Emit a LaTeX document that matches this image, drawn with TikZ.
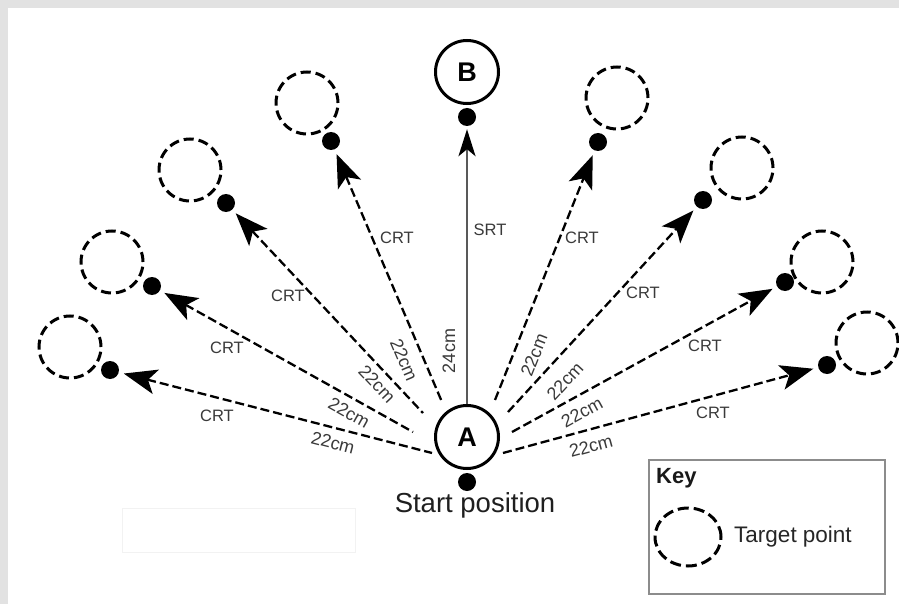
\documentclass[tikz,border=0pt]{standalone}
\usepackage{fontspec}
\setmainfont{Liberation Sans}
\usetikzlibrary{arrows.meta,shapes.geometric}
\definecolor{edgegray}{HTML}{E2E2E2}
\definecolor{labelgray}{HTML}{3A3A3A}
\definecolor{keyframe}{HTML}{8C8C8C}
\tikzset{
  target/.style={circle, draw=black, line width=3pt, dash pattern=on 10pt off 5pt,
    minimum size=62pt, inner sep=0pt},
  spot/.style={circle, fill=black, minimum size=18pt, inner sep=0pt},
  station/.style={circle, draw=black, line width=3pt, minimum size=63pt, inner sep=0pt,
    font=\fontsize{27}{29}\selectfont\bfseries},
  connleft/.style={draw=black, line width=2.3pt, dash pattern=on 9pt off 4pt, shorten <=5pt,
    arrows={Stealth[length=33pt, width=25pt, inset=8pt]-}},
  connright/.style={draw=black, line width=2.3pt, dash pattern=on 9pt off 4pt, shorten >=5pt,
    arrows={-Stealth[length=33pt, width=25pt, inset=8pt]}},
  srtline/.style={draw=black!65, line width=2.3pt, shorten >=3pt,
    arrows={-Stealth[length=27pt, width=17pt, inset=7pt, color=black]}},
  crt/.style={text=labelgray, font=\fontsize{16.5}{18}\selectfont, inner sep=0pt},
  dist/.style={text=labelgray, font=\fontsize{18}{20}\selectfont, inner sep=0pt},
}
\begin{document}
\begin{tikzpicture}[x=1pt, y=-1pt]
  % canvas with grey frame strips on top and left
  \useasboundingbox (0,0) rectangle (899,604);
  \fill[white] (0,0) rectangle (899,604);
  \fill[edgegray] (0,0) rectangle (899,8);
  \fill[edgegray] (0,0) rectangle (8,604);

  % faint empty box under the fan
  \node[draw=black!5, line width=0.8pt, minimum width=233pt, minimum height=44pt, inner sep=0pt]
    (blank) at (238.5,530) {};

  % start and end stations
  \node[station] (A) at (467,437) {A};
  \node[spot] (Adot) at (467,482) {};
  \node[font=\fontsize{27.5}{30}\selectfont, text=black!88, anchor=base, inner sep=0pt]
    (start) at (475,512) {Start position};
  \node[station] (B) at (467,72) {B};
  \node[spot] (Bdot) at (467,117) {};

  % target points (dashed circles) and their marker dots
  \node[target] (tl1) at (70,347) {};   \node[spot] (dl1) at (110,370) {};
  \node[target] (tl2) at (112,262) {};  \node[spot] (dl2) at (152,286) {};
  \node[target] (tl3) at (190,170) {};  \node[spot] (dl3) at (226,203) {};
  \node[target] (tl4) at (307,103) {};  \node[spot] (dl4) at (331,141) {};
  \node[target] (tr1) at (617,98) {};   \node[spot] (dr1) at (598,142) {};
  \node[target] (tr2) at (742,168) {};  \node[spot] (dr2) at (703,200) {};
  \node[target] (tr3) at (822,262) {};  \node[spot] (dr3) at (785,282) {};
  \node[target] (tr4) at (867,343) {};  \node[spot] (dr4) at (827,365) {};

  % start points of the CRT runs around A
  \coordinate (sl1) at (432,453);
  \coordinate (sl2) at (413,432);
  \coordinate (sl3) at (423,413);
  \coordinate (sl4) at (442,402);
  \coordinate (sr1) at (495,400);
  \coordinate (sr2) at (508,412);
  \coordinate (sr3) at (512,432);
  \coordinate (sr4) at (503,453);

  % CRT runs
  \draw[connleft] (dl1) -- (sl1);
  \draw[connleft] (dl2) -- (sl2);
  \draw[connleft] (dl3) -- (sl3);
  \draw[connleft] (dl4) -- (sl4);
  \draw[connright] (sr1) -- (dr1);
  \draw[connright] (sr2) -- (dr2);
  \draw[connright] (sr3) -- (dr3);
  \draw[connright] (sr4) -- (dr4);

  % SRT run
  \draw[srtline] (A) -- (Bdot);

  % run labels
  \node[crt] (cl1) at (217,416) {CRT};
  \node[crt] (cl2) at (227,348) {CRT};
  \node[crt] (cl3) at (288,296) {CRT};
  \node[crt] (cl4) at (397,238) {CRT};
  \node[crt] (srt) at (490,230) {SRT};
  \node[crt] (cr1) at (582,238) {CRT};
  \node[crt] (cr2) at (643,293) {CRT};
  \node[crt] (cr3) at (705,346) {CRT};
  \node[crt] (cr4) at (713,413) {CRT};

  % distance labels
  \node[dist, rotate=-14.5] (ml1) at (333,443) {22cm};
  \node[dist, rotate=-29.2] (ml2) at (349,413) {22cm};
  \node[dist, rotate=-46.8] (ml3) at (377,384) {22cm};
  \node[dist, rotate=-67] (ml4) at (404,360) {22cm};
  \node[dist, rotate=90] (mb) at (449,351) {24cm};
  \node[dist, rotate=68.2] (mr1) at (534,355) {22cm};
  \node[dist, rotate=47.4] (mr2) at (565,381) {22cm};
  \node[dist, rotate=28.8] (mr3) at (582,412) {22cm};
  \node[dist, rotate=15.2] (mr4) at (591,446) {22cm};

  % key
  \node[draw=keyframe, line width=1.2pt, minimum width=236pt, minimum height=134pt, inner sep=0pt]
    (key) at (767,527) {};
  \node[font=\fontsize{22}{24}\selectfont\bfseries, anchor=base west, inner sep=0pt, text=black!90]
    (keytitle) at (656,483) {Key};
  \node[ellipse, draw=black, line width=3pt, dash pattern=on 11pt off 5pt,
    minimum width=66pt, minimum height=58pt, inner sep=0pt] (keytarget) at (688,537) {};
  \node[font=\fontsize{22.5}{24}\selectfont, anchor=west, inner sep=0pt, text=black!85]
    (keytext) at (734,537) {Target point};
\end{tikzpicture}
\end{document}
